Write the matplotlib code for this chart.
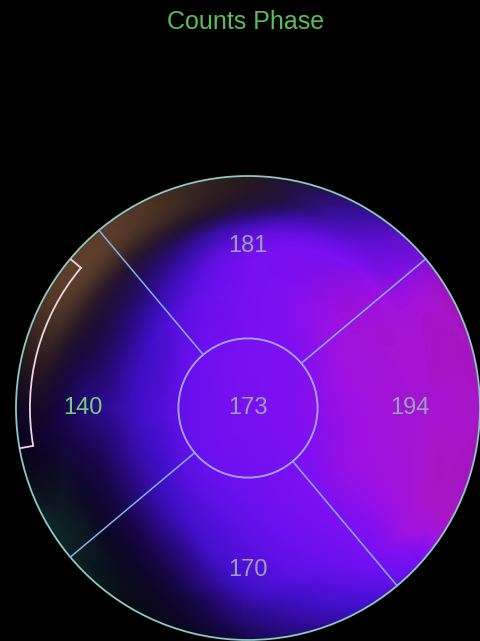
import numpy as np
import matplotlib
matplotlib.use("Agg")
import matplotlib.pyplot as plt
import matplotlib.tri as mtri
from matplotlib.colors import LinearSegmentedColormap
from matplotlib.patches import Circle, Arc

# polar map grid: node angles (deg, 0 = lateral, 90 = anterior) and radii
angles = [0, 30, 60, 90, 120, 150, 180, 210, 240, 270, 300, 330]
radii = [0.0, 0.25, 0.5, 0.75, 0.9, 1.05]

# counts at each node (rows = radii, cols = angles)
counts = [
    [173, 173, 173, 173, 173, 173, 173, 173, 173, 173, 173, 173],
    [182, 180, 176, 174, 168, 160, 155, 158, 162, 166, 172, 178],
    [195, 196, 185, 170, 148, 118, 112, 108, 130, 150, 172, 190],
    [202, 200, 176, 150, 85, 55, 70, 45, 60, 125, 160, 196],
    [206, 202, 140, 45, 15, 15, 35, 20, 25, 85, 140, 204],
    [210, 206, 90, 15, 8, 8, 20, 10, 5, 45, 110, 208],
]

# phase tint (+ brown, - teal)
phase = [
    [0, 0, 0, 0, 0, 0, 0, 0, 0, 0, 0, 0],
    [0, 0, 0, 0, 0, 0, 0, 0, 0, 0, 0, 0],
    [0, 0, 0, 0, 0, 0, 0, 0, 0, 0, 0, 0],
    [0, 0, 0, 0.1, 0.3, 0.4, 0, -0.2, 0, 0, 0, 0],
    [0, 0, 0.2, 0.5, 0.85, 0.9, 0.3, -0.6, -0.3, 0, 0, 0],
    [0, 0.1, 0.35, 0.6, 0.9, 0.9, 0.2, -0.8, -0.4, -0.1, 0, 0],
]

seg_values = ["181", "194", "170", "140", "173"]
seg_pos = [(0, 0.70), (0.70, 0), (0, -0.70), (-0.71, 0), (0, 0)]
seg_colors = ["#9aa0b8", "#9aa0b8", "#9aa0b8", "#74d074", "#9aa0b8"]

# ---- triangulate in (angle, radius) space, wrapping the angle
cnt = np.array(counts, float)
pha = np.array(phase, float)
ang = np.array(angles, float)
ang_w = np.concatenate([ang[-2:] - 360, ang, ang[:2] + 360])
cnt_w = np.hstack([cnt[:, -2:], cnt, cnt[:, :2]])
pha_w = np.hstack([pha[:, -2:], pha, pha[:, :2]])
A, Rr = np.meshgrid(ang_w / 120.0, radii)
tri = mtri.Triangulation(A.ravel(), Rr.ravel())
f_cnt = mtri.CubicTriInterpolator(tri, cnt_w.ravel(), kind="geom")
f_pha = mtri.CubicTriInterpolator(tri, pha_w.ravel(), kind="geom")

gx, gy = np.meshgrid(np.linspace(-1.02, 1.02, 480), np.linspace(-1.02, 1.02, 480))
g_ang = np.degrees(np.arctan2(gy, gx)) % 360 / 120.0
g_r = np.minimum(np.hypot(gx, gy), 1.05)
C = np.clip(f_cnt(g_ang, g_r), 0, 220)
P = np.clip(f_pha(g_ang, g_r), -1, 1)

cmap = LinearSegmentedColormap.from_list("counts", [
    (0.0, "#050308"), (60 / 220, "#1a0850"), (120 / 220, "#4010c8"),
    (160 / 220, "#6c10f0"), (180 / 220, "#8010f0"), (195 / 220, "#a012e0"),
    (208 / 220, "#a816c8"), (1.0, "#9a18b0")])
tint = LinearSegmentedColormap.from_list("tint", [
    (0.0, (0.10, 0.29, 0.25, 0.9)), (0.5, (0.0, 0.0, 0.0, 0.0)),
    (1.0, (0.42, 0.29, 0.19, 0.9))])

fig = plt.figure(figsize=(4.81, 6.41), dpi=100, facecolor="black")
R = 232.0
half = 1.02 * R
ax = fig.add_axes([(248 - half) / 481, (641 - 408 - half) / 641, 2 * half / 481, 2 * half / 641])
ax.set_facecolor("black")
ax.set_xlim(-1.02, 1.02)
ax.set_ylim(-1.02, 1.02)
ax.set_aspect("equal")
ax.axis("off")

ext = [-1.02, 1.02, -1.02, 1.02]
im1 = ax.imshow(C, cmap=cmap, vmin=0, vmax=220, origin="lower",
                extent=ext, interpolation="bilinear")
im1.set_clip_path(Circle((0, 0), 1.0, transform=ax.transData))
im2 = ax.imshow(P, cmap=tint, vmin=-1, vmax=1, origin="lower",
                extent=ext, interpolation="bilinear")
im2.set_clip_path(Circle((0, 0), 1.0, transform=ax.transData))

# segment borders
ax.add_patch(Circle((0, 0), 1.0, fill=False, ec="#8ec8c0", lw=1.3))
r_in = 0.30
ax.add_patch(Circle((0, 0), r_in, fill=False, ec="#a4a8ff", lw=1.3))
for a in [40, 130, 220, 310]:
    t = np.deg2rad(a)
    ax.plot([r_in * np.cos(t), np.cos(t)], [r_in * np.sin(t), np.sin(t)],
            color="#82b0f0", lw=1.1)

# white bracket on septal wall
ax.add_patch(Arc((0, 0), 1.88, 1.88, theta1=140, theta2=190, ec="#ecd4e4", lw=1.3))
for a in [140, 190]:
    t = np.deg2rad(a)
    ax.plot([0.94 * np.cos(t), 0.995 * np.cos(t)], [0.94 * np.sin(t), 0.995 * np.sin(t)],
            color="#ecd4e4", lw=1.3)

for txt, (x, y), c in zip(seg_values, seg_pos, seg_colors):
    ax.text(x, y, txt, color=c, fontsize=17, ha="center", va="center",
            family=["Liberation Sans", "DejaVu Sans"])

fig.text(246 / 481, 1 - 22 / 641, "Counts Phase", color="#5cbc5c", fontsize=18,
         ha="center", va="center", family=["Liberation Sans", "DejaVu Sans"])

fig.savefig("out.png", dpi=100, facecolor="black")
